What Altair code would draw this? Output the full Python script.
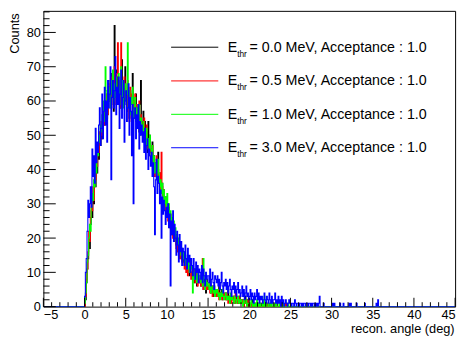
import altair as alt
import pandas as pd

FONT = "Liberation Sans"
BIN = 0.1
XMIN, XMAX = -5.0, 45.0
NB = 500
START = 50  # bin index of 0 deg

# ---- histogram contents (0.1 deg bins, starting at 0 deg) ----
black_counts = [
    0, 2, 7, 11, 14, 19, 17, 24, 28, 26,
    33, 30, 38, 35, 42, 39, 45, 43, 49, 47,
    52, 49, 55, 58, 53, 60, 56, 62, 57, 63,
    60, 66, 59, 68, 62, 57, 82, 64, 69, 61,
    67, 60, 65, 58, 63, 72, 61, 66, 59, 70,
    62, 57, 65, 60, 55, 63, 59, 61, 68, 58,
    60, 55, 62, 53, 58, 56, 51, 59, 66, 54,
    52, 57, 49, 54, 47, 51, 45, 54, 48, 50,
    46, 43, 48, 41, 44, 39, 42, 40, 37, 45,
    38, 35, 39, 33, 36, 31, 34, 30, 32, 28,
    30, 26, 29, 24, 27, 22, 25, 21, 23, 20,
    21, 18, 20, 16, 19, 15, 17, 14, 16, 13,
    15, 12, 14, 11, 13, 10, 12, 9, 11, 10,
    10, 8, 11, 7, 9, 10, 6, 9, 8, 7,
    8, 6, 9, 7, 5, 8, 7, 4, 8, 6,
    6, 5, 7, 4, 6, 5, 3, 6, 5, 4,
    5, 3, 4, 6, 3, 4, 5, 2, 4, 3,
    3, 4, 2, 3, 5, 2, 3, 1, 3, 2,
    2, 3, 1, 2, 3, 2, 1, 2, 3, 1,
    2, 1, 2, 0, 1, 3, 1, 2, 1, 0,
    1, 0, 1, 2, 0, 1, 0, 1, 0, 1,
    0, 1, 0, 0, 1, 0, 1, 0, 0, 1,
    0, 0, 1, 0, 0, 1, 0, 0, 0, 1,
    0, 0, 0, 1, 0, 0, 0, 0, 1, 0,
    0, 0, 0, 0, 0, 1, 0, 0, 0, 0,
]

red_counts = [
    0, 3, 8, 11, 16, 22, 19, 26, 30, 28,
    35, 31, 40, 37, 44, 41, 47, 45, 51, 49,
    54, 50, 58, 55, 53, 60, 57, 62, 56, 64,
    60, 65, 58, 67, 63, 61, 70, 64, 59, 68,
    77, 62, 66, 58, 77, 65, 60, 64, 67, 61,
    63, 57, 66, 60, 54, 64, 59, 62, 56, 60,
    58, 62, 55, 59, 53, 57, 60, 51, 56, 54,
    52, 49, 55, 47, 50, 53, 46, 49, 44, 48,
    45, 42, 47, 40, 43, 38, 41, 44, 37, 40,
    36, 39, 33, 45, 35, 30, 34, 31, 28, 32,
    29, 25, 28, 23, 26, 21, 24, 20, 23, 19,
    21, 17, 19, 16, 18, 14, 17, 15, 13, 16,
    14, 11, 13, 10, 12, 9, 12, 10, 11, 8,
    10, 8, 11, 9, 7, 10, 8, 6, 9, 7,
    8, 6, 7, 14, 5, 7, 6, 8, 5, 6,
    5, 7, 4, 6, 5, 3, 6, 4, 5, 3,
    4, 3, 5, 2, 4, 3, 4, 2, 3, 4,
    3, 2, 4, 3, 1, 3, 2, 3, 1, 2,
    2, 3, 1, 4, 2, 1, 2, 3, 1, 2,
    1, 2, 1, 0, 2, 1, 1, 0, 2, 1,
    0, 1, 0, 1, 1, 0, 0, 1, 0, 0,
    1, 0, 0, 1, 0, 0, 0, 1, 0, 0,
    0, 1, 0, 0, 0, 0, 1, 0, 0, 0,
    0, 0, 1, 0, 0, 0, 0, 0, 0, 1,
    0, 0, 0, 0, 1, 0, 0, 0, 0, 0,
]

green_counts = [
    1, 4, 7, 13, 15, 20, 24, 22, 29, 33,
    31, 37, 35, 42, 39, 46, 44, 50, 48, 53,
    51, 56, 60, 54, 59, 70, 63, 55, 61, 60,
    64, 58, 66, 62, 69, 60, 65, 61, 67, 63,
    62, 68, 59, 64, 70, 61, 66, 58, 63, 65,
    60, 62, 77, 58, 63, 56, 61, 59, 64, 55,
    57, 61, 54, 58, 52, 56, 59, 50, 55, 53,
    51, 54, 48, 50, 46, 52, 47, 49, 45, 50,
    46, 43, 47, 41, 44, 39, 42, 40, 38, 43,
    39, 35, 37, 33, 36, 31, 34, 30, 32, 29,
    33, 27, 30, 25, 28, 24, 26, 22, 25, 21,
    23, 19, 21, 18, 20, 16, 18, 15, 17, 14,
    16, 13, 15, 12, 14, 11, 13, 10, 12, 11,
    12, 4, 10, 8, 11, 9, 7, 10, 8, 9,
    9, 7, 8, 6, 14, 7, 5, 8, 6, 7,
    6, 5, 7, 4, 6, 5, 4, 6, 3, 5,
    4, 5, 3, 4, 2, 4, 3, 5, 3, 2,
    3, 4, 2, 3, 2, 3, 1, 4, 2, 3,
    2, 1, 3, 2, 1, 2, 3, 1, 2, 1,
    2, 1, 0, 2, 1, 1, 2, 0, 1, 1,
    1, 0, 2, 1, 0, 1, 0, 1, 0, 2,
    0, 1, 0, 1, 0, 0, 1, 0, 3, 0,
    1, 0, 0, 1, 0, 0, 1, 0, 0, 1,
    0, 0, 1, 0, 0, 0, 1, 0, 0, 0,
    0, 1, 0, 0, 0, 0, 0, 1, 0, 0,
]

blue_counts = [
    3, 10, 14, 22, 31, 26, 30, 35, 29, 46,
    38, 44, 36, 52, 42, 48, 45, 53, 58, 47,
    52, 62, 49, 57, 64, 53, 60, 48, 66, 58,
    62, 70, 37, 61, 66, 58, 63, 73, 56, 64,
    59, 67, 52, 62, 69, 55, 61, 66, 48, 60,
    63, 54, 58, 65, 50, 61, 57, 44, 59, 30,
    55, 58, 49, 56, 52, 59, 46, 54, 50, 53,
    48, 51, 45, 52, 43, 47, 49, 40, 46, 44,
    41, 45, 38, 42, 35, 21, 37, 43, 33, 38,
    36, 30, 34, 20, 32, 27, 31, 28, 24, 29,
    26, 30, 23, 27, 6, 25, 21, 28, 19, 24,
    20, 15, 22, 18, 13, 21, 16, 19, 12, 17,
    16, 12, 18, 14, 11, 17, 13, 15, 10, 14,
    12, 9, 14, 11, 8, 13, 10, 12, 7, 11,
    10, 8, 12, 7, 11, 9, 6, 10, 8, 9,
    9, 7, 11, 6, 8, 10, 7, 5, 9, 8,
    7, 9, 6, 8, 5, 7, 10, 6, 4, 7,
    6, 8, 5, 7, 4, 6, 8, 5, 3, 6,
    5, 7, 4, 6, 3, 5, 7, 4, 5, 3,
    4, 6, 3, 5, 2, 4, 6, 3, 4, 2,
    3, 5, 2, 4, 3, 1, 4, 2, 3, 5,
    2, 4, 1, 3, 2, 3, 1, 2, 4, 2,
    1, 3, 2, 1, 4, 2, 1, 3, 1, 2,
    2, 4, 1, 2, 1, 3, 1, 2, 0, 3,
    1, 2, 0, 1, 2, 1, 0, 1, 2, 1,
    1, 0, 1, 1, 0, 2, 1, 0, 1, 1,
    0, 1, 1, 0, 1, 0, 1, 1, 0, 1,
    1, 0, 1, 1, 0, 1, 0, 1, 1, 0,
    1, 0, 1, 0, 1, 3, 0, 0, 0, 0,
]
blue_sparse_angle = [29.0, 30.1, 30.3, 31.0, 31.4, 32.1, 32.3, 33.0, 34.0, 35.4, 35.6]
blue_sparse_count = [1, 1, 1, 1, 1, 1, 1, 1, 1, 1, 2]

series_colors = ["#000000", "#ff0000", "#00ff00", "#0000ff"]
legend_labels = [
    "= 0.0 MeV, Acceptance : 1.0",
    "= 0.5 MeV, Acceptance : 1.0",
    "= 1.0 MeV, Acceptance : 1.0",
    "= 3.0 MeV, Acceptance : 1.0",
]

x_major = [-5, 0, 5, 10, 15, 20, 25, 30, 35, 40, 45]
y_major = [0, 10, 20, 30, 40, 50, 60, 70, 80]
x_minor = [v for v in range(-5, 46) if v % 5 != 0]
y_minor = [v for v in range(0, 87, 2) if v % 10 != 0]

W, H = 419, 301
YMAX = 86.3


def hist_df(counts, sp_x=(), sp_c=()):
    vals = [0] * NB
    for i, c in enumerate(counts):
        vals[START + i] = c
    for a, c in zip(sp_x, sp_c):
        vals[int(round((a - XMIN) / BIN))] = c
    xs = [round(XMIN + i * BIN, 2) for i in range(NB)] + [XMAX]
    ys = vals + [vals[-1]]
    return pd.DataFrame({"x": xs, "y": ys})


xscale = alt.Scale(domain=[XMIN, XMAX], nice=False, zero=False)
yscale = alt.Scale(domain=[0, YMAX], nice=False, zero=False)

xaxis = alt.Axis(values=x_major, ticks=False, domain=False, grid=False,
                 labelFont=FONT, labelFontSize=13, labelPadding=2.5, labelColor="#000",
                 title="recon. angle (deg)", titleFont=FONT, titleFontSize=13,
                 titleFontWeight="normal", titleColor="#000", titleX=W - 1, titleY=26,
                 titleAlign="right", titleBaseline="alphabetic")
yaxis = alt.Axis(values=y_major, ticks=False, domain=False, grid=False,
                 labelFont=FONT, labelFontSize=13, labelPadding=3, labelColor="#000",
                 title="Counts", titleFont=FONT, titleFontSize=13,
                 titleFontWeight="normal", titleColor="#000", titleAngle=270,
                 titleX=-29.5, titleY=2, titleAlign="right", titleBaseline="middle")

layers = []
datas = [
    hist_df(black_counts),
    hist_df(red_counts),
    hist_df(green_counts),
    hist_df(blue_counts, blue_sparse_angle, blue_sparse_count),
]
for df, col in zip(datas, series_colors):
    layers.append(
        alt.Chart(df).mark_line(interpolate="step-after", color=col, strokeWidth=1.1, clip=True)
        .encode(x=alt.X("x:Q", scale=xscale, axis=xaxis),
                y=alt.Y("y:Q", scale=yscale, axis=yaxis))
    )

# inward ticks (ROOT style)
def xticks(vals, length):
    return alt.Chart(pd.DataFrame({"x": vals})).mark_rule(color="#000", strokeWidth=1).encode(
        x=alt.X("x:Q", scale=xscale, axis=xaxis), y=alt.value(H), y2=alt.value(H - length))


def yticks(vals, length):
    return alt.Chart(pd.DataFrame({"y": vals})).mark_rule(color="#000", strokeWidth=1).encode(
        y=alt.Y("y:Q", scale=yscale, axis=yaxis), x=alt.value(0), x2=alt.value(length))


layers += [xticks(x_major, 9), xticks(x_minor, 4.5), yticks(y_major, 12.6), yticks(y_minor, 6.3)]

# legend (drawn inside the frame, no border)
row_y = [37, 71.3, 105.3, 139.3]
leg = pd.DataFrame({
    "ly": row_y,
    "ey": [r + 4.5 for r in row_y],
    "sy": [r + 9.5 for r in row_y],
    "color": series_colors,
    "label": legend_labels,
})
layers.append(alt.Chart(leg).mark_rule(strokeWidth=1).encode(
    x=alt.value(130), x2=alt.value(178),
    y=alt.Y("ly:Q", scale=None),
    color=alt.Color("color:N", scale=None, legend=None)))
layers.append(alt.Chart(leg).mark_text(align="left", baseline="alphabetic", font=FONT,
                                       fontSize=14.5, color="#000").encode(
    x=alt.value(187.7), y=alt.Y("ey:Q", scale=None), text=alt.value("E")))
layers.append(alt.Chart(leg).mark_text(align="left", baseline="alphabetic", font=FONT,
                                       fontSize=8.5, color="#000").encode(
    x=alt.value(197.2), y=alt.Y("sy:Q", scale=None), text=alt.value("thr")))
layers.append(alt.Chart(leg).mark_text(align="left", baseline="alphabetic", font=FONT,
                                       fontSize=14.5, color="#000").encode(
    x=alt.value(209.8), y=alt.Y("ey:Q", scale=None), text="label:N"))

chart = alt.layer(*layers).properties(
    width=W, height=H,
    autosize=alt.AutoSizeParams(type="none"),
    padding={"left": 36, "top": 0, "right": 6, "bottom": 28},
    background="white",
).configure_view(stroke="#000", strokeWidth=1)

chart.save("out.html", embed_options={"renderer": "svg", "actions": False})
